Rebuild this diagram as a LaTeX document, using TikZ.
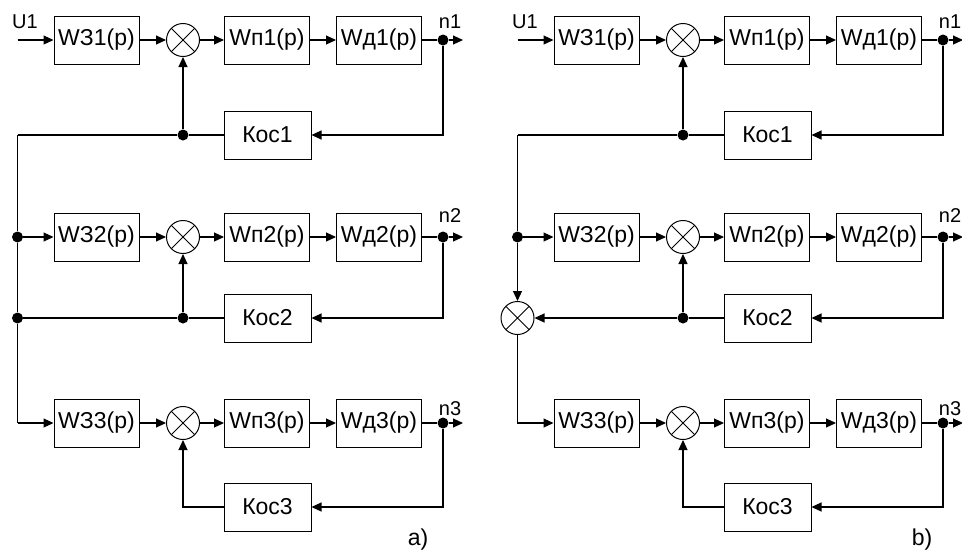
\documentclass[tikz,border=0pt]{standalone}
\usepackage{fontspec}
\setmainfont{Liberation Sans}
\usetikzlibrary{arrows.meta}
\tikzset{
  wire/.style={line width=1.1pt},
  arr/.style={wire,-{Triangle[length=10pt,width=9pt]}},
  blk/.style={draw,line width=1pt,minimum width=85pt,minimum height=48pt,
    inner sep=0pt,font=\fontsize{23}{25}\selectfont},
  sum/.style={draw,circle,line width=1pt,minimum size=33pt,inner sep=0pt,
    path picture={\draw[line width=0.8pt]
      (path picture bounding box.center) ++(45:17pt) -- ++(225:34pt)
      (path picture bounding box.center) ++(135:17pt) -- ++(315:34pt);}},
  dot/.style={circle,fill,minimum size=11pt,inner sep=0pt},
  lbl/.style={font=\fontsize{20}{22}\selectfont,anchor=base,inner sep=0pt},
  tag/.style={font=\fontsize{23}{25}\selectfont,inner sep=0pt}
}
\begin{document}
\begin{tikzpicture}[x=1pt,y=-1pt]
\useasboundingbox (0,0) rectangle (962,550);

% the three control loops, drawn in both schemes
\foreach \p/\dx in {a/0,b/500} {
  \foreach \r/\yr/\yf/\yn in {1/40/135/28,2/237/318/222,3/423/507/415} {
    \node[blk] (\p w\r) at (96.5+\dx,\yr) {WЗ\r(p)};
    \node[sum] (\p s\r) at (183+\dx,\yr) {};
    \node[blk] (\p p\r) at (267+\dx,\yr) {Wп\r(p)};
    \node[blk] (\p d\r) at (379+\dx,\yr) {Wд\r(p)};
    \node[dot] (\p o\r) at (443+\dx,\yr) {};
    \coordinate (\p e\r) at (463+\dx,\yr);
    \node[blk,minimum width=87pt] (\p k\r) at (267.5+\dx,\yf) {Кос\r};
    \node[lbl] (\p n\r) at (450+\dx,\yn) {n\r};
    \draw[arr] (\p w\r.east) -- (\p s\r.west);
    \draw[arr] (\p s\r.east) -- (\p p\r.west);
    \draw[arr] (\p p\r.east) -- (\p d\r.west);
    \draw[wire] (\p d\r.east) -- (\p o\r);
    \draw[arr] (\p o\r) -- (\p e\r);
    \draw[arr] (\p o\r) |- (\p k\r.east);
  }
  \coordinate (\p in) at (17.5+\dx,40);
  \node[lbl] (\p u) at (25+\dx,28) {U1};
  \draw[arr] (\p in) -- (\p w1.west);
  % first feedback branch
  \node[dot] (\p j1) at (183+\dx,135) {};
  \coordinate (\p c1) at (17.5+\dx,135);
  \draw[wire] (\p k1.west) -- (\p j1) -- (\p c1);
  \draw[arr] (\p j1) -- (\p s1.south);
  % second feedback branch
  \node[dot] (\p j2) at (183+\dx,318) {};
  \draw[arr] (\p j2) -- (\p s2.south);
  \draw[wire] (\p k2.west) -- (\p j2);
  % third loop feedback
  \draw[arr] (\p k3.west) -| (\p s3.south);
  % common line feeding the lower loops
  \node[dot] (\p t2) at (17.5+\dx,237) {};
  \draw[wire] (\p c1) -- (\p t2);
  \draw[arr] (\p t2) -- (\p w2.west);
}

% scheme a): the feedback signals are joined directly
\node[dot] (at3) at (17.5,318) {};
\coordinate (ac3) at (17.5,423);
\draw[wire] (at2) -- (at3) -- (ac3);
\draw[wire] (aj2) -- (at3);
\draw[arr] (ac3) -- (aw3.west);
\node[tag] (alab) at (418,540) {a)};

% scheme b): the feedback signals meet in a comparator
\node[sum] (bx) at (517.5,318) {};
\draw[arr] (bt2) -- (bx.north);
\draw[arr] (bj2) -- (bx.east);
\draw[arr] (bx.south) |- (bw3.west);
\node[tag] (blab) at (922,540) {b)};
\end{tikzpicture}
\end{document}
